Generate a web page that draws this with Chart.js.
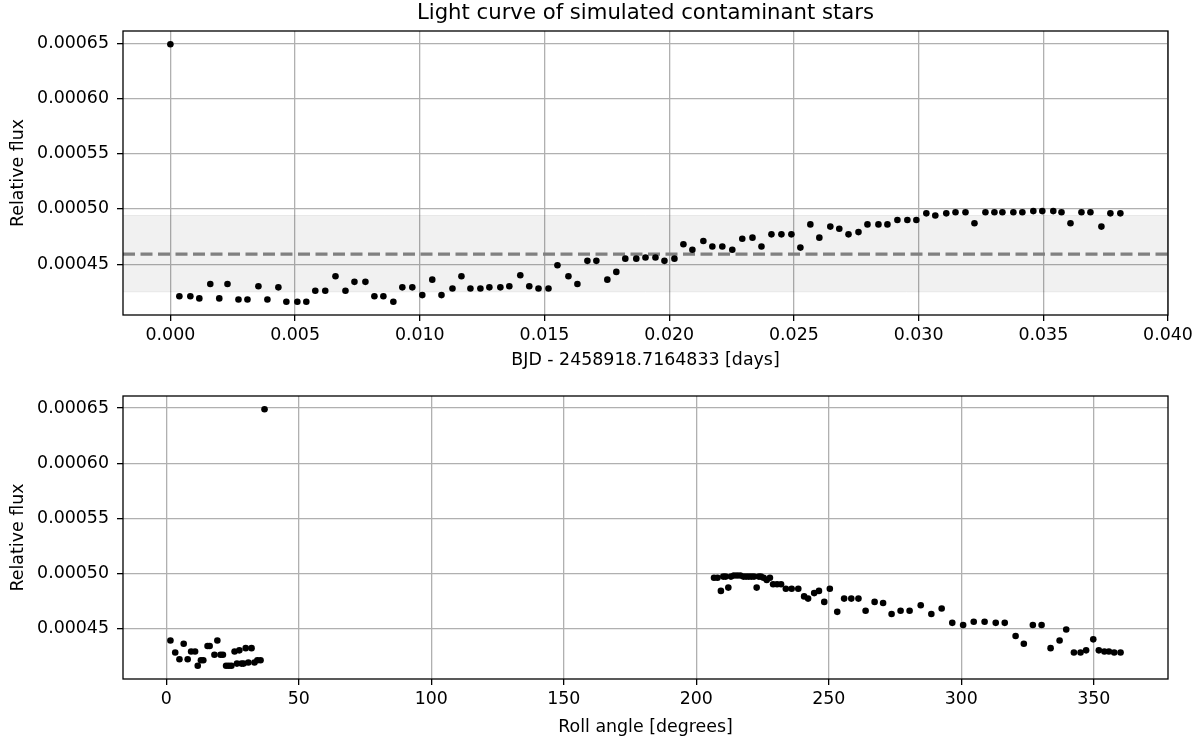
<!DOCTYPE html>
<html>
<head>
<meta charset="utf-8">
<script src="https://cdn.jsdelivr.net/npm/chart.js@4/dist/chart.umd.min.js"></script>
<style>
  html, body { margin: 0; padding: 0; background: #fff; }
  #wrap { position: relative; width: 1203px; height: 742px; }
  .box { position: absolute; left: 0; width: 1203px; height: 371px; }
  #b1 { top: 0; }
  #b2 { top: 371px; }
</style>
</head>
<body>
<div id="wrap">
  <div class="box" id="b1"><canvas id="c1" width="1203" height="371"></canvas></div>
  <div class="box" id="b2"><canvas id="c2" width="1203" height="371"></canvas></div>
</div>
<script>
// ---- data ----
const titleText = 'Light curve of simulated contaminant stars';
const timeLabel = 'BJD - 2458918.7164833 [days]';
const rollLabel = 'Roll angle [degrees]';
const fluxLabel = 'Relative flux';

const timeDays = [
  0, 0.00036, 0.00080, 0.00116, 0.00160, 0.00196, 0.00229, 0.00273, 0.00309, 0.00353,
  0.00389, 0.00433, 0.00465, 0.00509, 0.00545, 0.00581, 0.00621, 0.00662, 0.00702, 0.00738,
  0.00782, 0.00818, 0.00854, 0.00894, 0.00930, 0.00970, 0.01010, 0.01050, 0.01087, 0.01131,
  0.01167, 0.01203, 0.01243, 0.01279, 0.01323, 0.01359, 0.01403, 0.01439, 0.01476, 0.01516,
  0.01552, 0.01596, 0.01632, 0.01672, 0.01708, 0.01752, 0.01788, 0.01824, 0.01868, 0.01905,
  0.01945, 0.01981, 0.02021, 0.02057, 0.02093, 0.02137, 0.02173, 0.02213, 0.02253, 0.02293,
  0.02334, 0.02370, 0.02410, 0.02450, 0.02490, 0.02526, 0.02566, 0.02602, 0.02646, 0.02682,
  0.02719, 0.02759, 0.02795, 0.02839, 0.02875, 0.02915, 0.02955, 0.02991, 0.03031, 0.03067,
  0.03111, 0.03148, 0.03188, 0.03224, 0.03268, 0.03304, 0.03336, 0.03380, 0.03416, 0.03460,
  0.03496, 0.03540, 0.03573, 0.03609, 0.03653, 0.03689, 0.03733, 0.03769, 0.03809
];

const relFlux = [
  0.000649, 0.000421, 0.000421, 0.000419, 0.000432, 0.000419, 0.000432, 0.000418, 0.000418, 0.000430,
  0.000418, 0.000429, 0.000416, 0.000416, 0.000416, 0.000426, 0.000426, 0.000439, 0.000426, 0.000434,
  0.000434, 0.000421, 0.000421, 0.000416, 0.000429, 0.000429, 0.000422, 0.000436, 0.000422, 0.000428,
  0.000439, 0.000428, 0.000428, 0.000429, 0.000429, 0.000430, 0.000440, 0.000430, 0.000428, 0.000428,
  0.000449, 0.000439, 0.000432, 0.000453, 0.000453, 0.000436, 0.000443, 0.000455, 0.000455, 0.000456,
  0.000456, 0.000453, 0.000455, 0.000468, 0.000463, 0.000471, 0.000466, 0.000466, 0.000463, 0.000473,
  0.000474, 0.000466, 0.000477, 0.000477, 0.000477, 0.000465, 0.000486, 0.000474, 0.000484, 0.000482,
  0.000477, 0.000479, 0.000486, 0.000486, 0.000486, 0.000490, 0.000490, 0.000490, 0.000496, 0.000494,
  0.000496, 0.000497, 0.000497, 0.000487, 0.000497, 0.000497, 0.000497, 0.000497, 0.000497, 0.000498,
  0.000498, 0.000498, 0.000497, 0.000487, 0.000497, 0.000497, 0.000484, 0.000496, 0.000496
];

const rollDeg = [
  37.1, 35.6, 34.4, 33.3, 32.2, 31.0, 30.0, 29.2, 28.4, 27.6,
  26.7, 25.8, 24.6, 23.6, 22.6, 21.4, 20.5, 19.3, 18.2, 16.4,
  15.6, 14.0, 13.1, 11.9, 10.9, 9.4, 8.1, 6.6, 5.0, 3.4,
  1.6, 360.1, 357.7, 355.7, 354.0, 351.9, 349.8, 347.1, 345.0, 342.5,
  339.6, 337.1, 333.7, 330.3, 327.0, 323.6, 320.5, 316.4, 313.0, 308.8,
  304.7, 300.7, 296.6, 292.6, 288.7, 284.7, 280.5, 277.1, 273.7, 270.5,
  267.3, 263.9, 261.2, 258.5, 255.8, 253.2, 250.4, 248.3, 246.3, 244.5,
  242.2, 240.7, 238.5, 236.0, 233.8, 232.0, 230.5, 229.0, 227.8, 226.6,
  225.4, 224.4, 223.6, 222.8, 221.8, 220.8, 219.8, 218.8, 217.8, 216.6,
  215.4, 214.2, 213.1, 212.1, 211.1, 210.2, 209.3, 208.0, 206.7
];

const medianFlux = 0.000459;
const bandLow = 0.000425;
const bandHigh = 0.000494;

const timeTicks = [0, 0.005, 0.010, 0.015, 0.020, 0.025, 0.030, 0.035, 0.040];
const rollTicks = [0, 50, 100, 150, 200, 250, 300, 350];
const fluxTicks = [0.00045, 0.00050, 0.00055, 0.00060, 0.00065];

// axis limits
const timeMin = -0.0019, timeMax = 0.040;
const rollMin = -16.3, rollMax = 378;
const fluxMin = 0.000404, fluxMax = 0.000661;

// ---- styling ----
Chart.defaults.font.family = "'DejaVu Sans', sans-serif";
Chart.defaults.font.size = 17.4;
Chart.defaults.color = '#000';

const framePlugin = {
  id: 'frame',
  afterDatasetsDraw(chart) {
    const { ctx, chartArea: a } = chart;
    ctx.save();
    ctx.strokeStyle = '#000';
    ctx.lineWidth = 1.3;
    ctx.strokeRect(a.left, a.top, a.right - a.left, a.bottom - a.top);
    ctx.restore();
  }
};

const gridOpts = { color: '#b0b0b0', lineWidth: 1.3, tickColor: '#000', tickLength: 6, tickWidth: 1.3 };

function fluxAxis() {
  return {
    type: 'linear', min: fluxMin, max: fluxMax, bounds: 'data',
    afterBuildTicks: s => { s.ticks = fluxTicks.map(v => ({ value: v })); },
    afterFit: s => { s.width = 123; },
    ticks: { padding: 8, callback: v => v.toFixed(5), autoSkip: false },
    grid: gridOpts,
    border: { display: false },
    title: { display: true, text: fluxLabel, padding: { top: 8, bottom: 0 } }
  };
}

const pts1 = timeDays.map((t, i) => ({ x: t, y: relFlux[i] }));
const pts2 = rollDeg.map((r, i) => ({ x: r, y: relFlux[i] }));

new Chart(document.getElementById('c1'), {
  type: 'scatter',
  data: {
    datasets: [
      { data: pts1, pointRadius: 3.3, pointBackgroundColor: '#000', pointBorderWidth: 0, showLine: false },
      { data: [{ x: timeMin, y: medianFlux }, { x: timeMax, y: medianFlux }], showLine: true,
        borderColor: '#808080', borderWidth: 3.2, borderDash: [12, 5.5], pointRadius: 0, fill: false },
      { data: [{ x: timeMin, y: bandHigh }, { x: timeMax, y: bandHigh }], showLine: true,
        borderColor: 'rgba(0,0,0,0.07)', borderWidth: 1, pointRadius: 0, fill: false },
      { data: [{ x: timeMin, y: bandLow }, { x: timeMax, y: bandLow }], showLine: true,
        borderColor: 'rgba(0,0,0,0.07)', borderWidth: 1, pointRadius: 0, fill: '-1',
        backgroundColor: 'rgba(0,0,0,0.055)' }
    ]
  },
  options: {
    responsive: false, animation: false, devicePixelRatio: 1,
    layout: { padding: { left: 0, right: 35, top: 0, bottom: 0 } },
    plugins: {
      legend: { display: false }, tooltip: { enabled: false },
      title: { display: true, text: titleText, fullSize: false,
        font: { size: 21.2, weight: 'normal', lineHeight: 1 }, padding: { top: 3, bottom: 6.8 }, color: '#000' }
    },
    scales: {
      x: {
        type: 'linear', min: timeMin, max: timeMax, bounds: 'data',
        afterBuildTicks: s => { s.ticks = timeTicks.map(v => ({ value: v })); },
        afterFit: s => { s.height = 56; },
        ticks: { padding: 4, maxRotation: 0, autoSkip: false, callback: v => v.toFixed(3) },
        grid: gridOpts,
        border: { display: false },
        title: { display: true, text: timeLabel, padding: { top: 0, bottom: 0 } }
      },
      y: fluxAxis()
    }
  },
  plugins: [framePlugin]
});

new Chart(document.getElementById('c2'), {
  type: 'scatter',
  data: {
    datasets: [
      { data: pts2, pointRadius: 3.3, pointBackgroundColor: '#000', pointBorderWidth: 0, showLine: false }
    ]
  },
  options: {
    responsive: false, animation: false, devicePixelRatio: 1,
    layout: { padding: { left: 0, right: 35, top: 25, bottom: 0 } },
    plugins: { legend: { display: false }, tooltip: { enabled: false } },
    scales: {
      x: {
        type: 'linear', min: rollMin, max: rollMax, bounds: 'data',
        afterBuildTicks: s => { s.ticks = rollTicks.map(v => ({ value: v })); },
        afterFit: s => { s.height = 63; },
        ticks: { padding: 4, maxRotation: 0, autoSkip: false, callback: v => String(v) },
        grid: gridOpts,
        border: { display: false },
        title: { display: true, text: rollLabel, padding: { top: 0, bottom: 4 } }
      },
      y: fluxAxis()
    }
  },
  plugins: [framePlugin]
});
</script>
</body>
</html>
